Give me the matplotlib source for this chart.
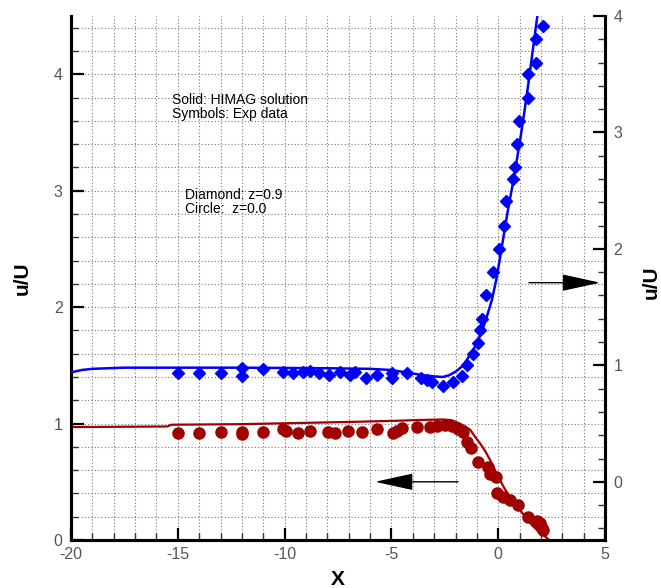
import matplotlib
matplotlib.use("Agg")
import matplotlib.pyplot as plt
from matplotlib.ticker import MultipleLocator

plt.rcParams['font.family'] = ['Liberation Sans', 'DejaVu Sans']
plt.rcParams['axes.unicode_minus'] = False

# HIMAG solution, z=0.9 (right axis)
blue_line_x = [-20, -19.5, -19, -17.5, -12, -8, -6, -5, -4.5, -4, -3.5, -3, -2.6, -2.3, -2.0,
               -1.7, -1.5, -1.25, -1.0, -0.75, -0.5, -0.3, -0.1, 0.08, 0.25, 0.43, 0.71,
               1.02, 1.2, 1.41, 1.62, 1.83]
blue_line_y = [0.94, 0.96, 0.97, 0.98, 0.98, 0.975, 0.97, 0.96, 0.945, 0.93, 0.915, 0.905, 0.90,
               0.915, 0.945, 0.99, 1.04, 1.11, 1.19, 1.30, 1.44, 1.56, 1.73, 1.92, 2.11, 2.31,
               2.59, 2.93, 3.15, 3.42, 3.71, 4.0]

# Exp data, z=0.9 (diamonds, right axis)
blue_exp_x = [-15, -14, -13, -12, -12, -11, -10.06, -9.59, -9.13, -8.81, -8.37, -7.91, -7.41,
              -6.94, -6.70, -6.19, -5.69, -4.99, -4.99, -4.28, -3.62, -3.35, -3.11, -2.60,
              -2.10, -1.70, -1.48, -1.18, -0.96, -0.84, -0.74, -0.57, -0.23, 0.05, 0.27,
              0.38, 0.68, 0.79, 0.89, 0.99, 1.41, 1.41, 1.76, 1.76, 2.08]
blue_exp_y = [0.93, 0.93, 0.93, 0.98, 0.91, 0.97, 0.94, 0.93, 0.94, 0.95, 0.93, 0.92, 0.94,
              0.92, 0.94, 0.89, 0.92, 0.93, 0.89, 0.93, 0.89, 0.87, 0.86, 0.82,
              0.86, 0.91, 1.00, 1.10, 1.19, 1.30, 1.40, 1.60, 1.80, 2.00, 2.20,
              2.41, 2.60, 2.70, 2.90, 3.10, 3.30, 3.50, 3.60, 3.80, 3.91]

# HIMAG solution, z=0.0 (left axis)
red_line_x = [-20, -15.5, -15.3, -12, -8, -6.5, -4.6, -3.8, -2.6, -2.2, -1.8, -1.5, -1.3, -1.1,
              -0.85, -0.6, -0.38, -0.15, 0.08, 0.3, 0.55, 0.8, 1.02, 1.3, 1.57, 1.85, 2.11, 2.35]
red_line_y = [0.97, 0.975, 0.99, 0.995, 1.01, 1.016, 1.025, 1.03, 1.035, 1.03, 1.00, 0.97, 0.944,
              0.89, 0.83, 0.76, 0.687, 0.60, 0.515, 0.44, 0.37, 0.31, 0.258, 0.19, 0.129,
              0.08, 0.043, 0.006]

# Exp data, z=0.0 (circles, left axis)
red_exp_x = [-15, -14, -13, -12, -12, -11, -10.06, -9.95, -9.36, -8.81, -7.95, -7.64, -7.02,
             -6.39, -5.69, -4.91, -4.75, -4.52, -3.82, -3.19, -2.88, -2.49, -2.18, -1.87,
             -1.65, -1.44, -1.28, -0.93, -0.50, -0.40, -0.10, -0.07, 0.24, 0.55, 0.94,
             1.41, 1.80, 1.96, 2.03, 2.11]
red_exp_y = [0.92, 0.92, 0.93, 0.93, 0.91, 0.93, 0.95, 0.94, 0.92, 0.94, 0.93, 0.92, 0.94,
             0.93, 0.95, 0.92, 0.94, 0.96, 0.97, 0.97, 0.98, 0.99, 0.98, 0.95,
             0.93, 0.84, 0.79, 0.67, 0.63, 0.57, 0.545, 0.40, 0.37, 0.34, 0.30,
             0.20, 0.16, 0.15, 0.10, 0.085]

blue = '#0000ff'
red = '#a00000'
tick_gray = '#555555'

fig = plt.figure(figsize=(6.61, 5.88), dpi=100)
ax = fig.add_axes([0.1074, 0.0816, 0.808, 0.8912])
ax2 = ax.twinx()

ax.set_xlim(-20, 5)
ax.set_ylim(0, 4.5)
ax2.set_ylim(-0.5, 4.0)

# grid
ax.xaxis.set_major_locator(MultipleLocator(5))
ax.xaxis.set_minor_locator(MultipleLocator(1))
ax.yaxis.set_major_locator(MultipleLocator(1))
ax.yaxis.set_minor_locator(MultipleLocator(0.2))
ax2.yaxis.set_major_locator(MultipleLocator(1))
ax2.yaxis.set_minor_locator(MultipleLocator(0.2))
ax.grid(True, which='both', color='#777777', linestyle=(0, (1, 2)), linewidth=0.8)
ax.set_axisbelow(True)

for a in (ax, ax2):
    a.spines['top'].set_visible(False)
    for s in ('left', 'right', 'bottom'):
        a.spines[s].set_linewidth(2.2)
    a.tick_params(which='major', direction='in', length=9, width=1.6, colors='black',
                  labelcolor=tick_gray, labelsize=11.5)
    a.tick_params(which='minor', direction='in', length=5, width=1.0, colors='#333333')
ax.tick_params(axis='x', pad=5)
ax.tick_params(axis='y', pad=6)
ax2.tick_params(axis='y', pad=6)

ax.plot(red_line_x, red_line_y, color=red, linewidth=1.6, zorder=3)
ax.plot(red_exp_x, red_exp_y, linestyle='none', marker='o', markersize=8,
        color=red, zorder=4)
ax2.plot(blue_line_x, blue_line_y, color=blue, linewidth=1.8, zorder=3)
ax2.plot(blue_exp_x, blue_exp_y, linestyle='none', marker='D', markersize=6.5,
         color=blue, zorder=4)

# arrows pointing to the axis each curve belongs to
arrow_style = dict(arrowstyle='-|>,head_length=1.6,head_width=0.35', mutation_scale=15,
                   color='black', lw=1.0, shrinkA=0, shrinkB=0)
ax.annotate('', xy=(4.77, 2.21), xytext=(1.44, 2.21), arrowprops=arrow_style)
ax.annotate('', xy=(-5.77, 0.5), xytext=(-1.88, 0.5), arrowprops=arrow_style)

ax.text(-15.27, 3.72, 'Solid: HIMAG solution\nSymbols: Exp data', fontsize=10,
        va='center', ha='left', linespacing=1.0)
ax.text(-14.66, 2.90, 'Diamond: z=0.9\nCircle:  z=0.0', fontsize=10,
        va='center', ha='left', linespacing=1.0)

ax.set_xlabel('X', fontsize=15, fontweight='bold', labelpad=6)
ax.set_ylabel('u/U', fontsize=15, fontweight='bold', labelpad=16)
fig.text(0.999, 0.52, 'u/U', fontsize=15, fontweight='bold', rotation=90,
         ha='right', va='center')

fig.savefig('out.png', dpi=100)
